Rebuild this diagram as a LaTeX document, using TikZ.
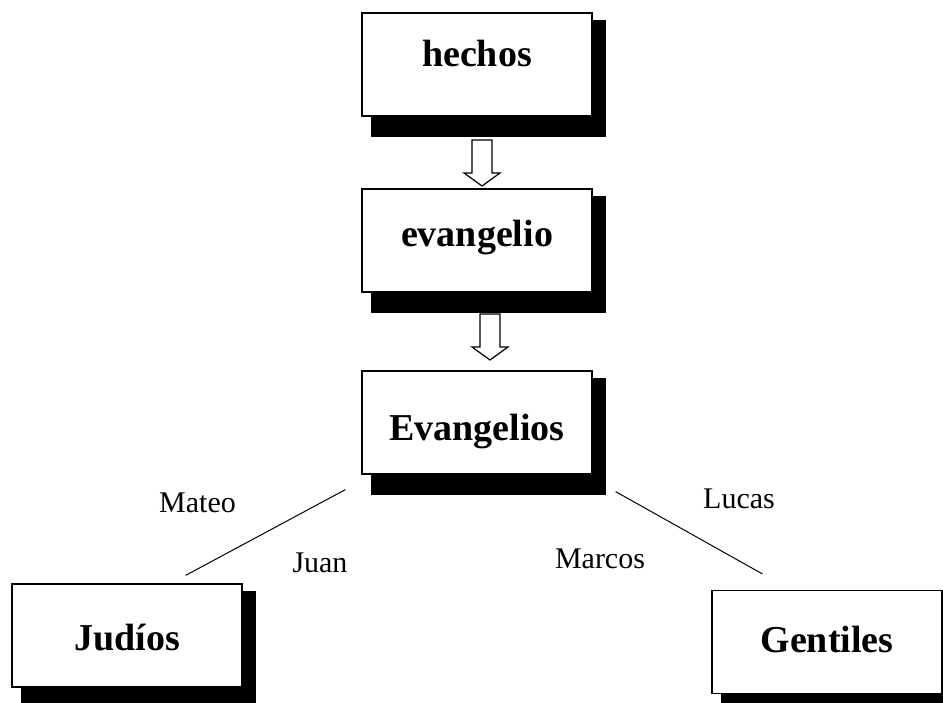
\documentclass[tikz,border=0pt]{standalone}
\usepackage{fontspec}
\setmainfont{Liberation Serif}
\usetikzlibrary{calc,backgrounds}

\tikzset{
	caja/.style={draw, fill=white, line width=1.2pt, minimum width=230pt, minimum height=103pt, inner sep=0pt, text height=2*#1, text depth=0pt, font=\fontsize{38}{40}\selectfont\bfseries},
	etiqueta/.style={font=\fontsize{30}{32}\selectfont, inner sep=0pt, anchor=base},
	flecha/.style={draw, line width=1.2pt, fill=white, line join=miter},
}

% flecha hueca hacia abajo desde una coordenada
\newcommand{\flechaabajo}[1]{
	\draw[flecha] (#1) ++(-10,0) -- ++(20,0) -- ++(0,33) -- ++(8,0) -- ++(-18,13) -- ++(-18,-13) -- ++(8,0) -- cycle;
}

\begin{document}
\begin{tikzpicture}[x=1pt, y=-1pt]

	\useasboundingbox (0,0) rectangle (943,702);

	\node[caja=1.5pt] (he) at (477,64.5) {hechos};
	\node[caja=5.5pt] (ev) at (477,240.5) {evangelio};
	\node[caja=17.5pt] (evs) at (477,422.5) {Evangelios};
	\node[caja=14.5pt] (ju) at (127,635.5) {Judíos};
	\node[caja=10pt] (ge) at (827,642) {Gentiles};

	% sombras
	\begin{scope}[on background layer]
		\foreach \n in {he,ev,evs,ju,ge}
			\fill ([shift={(10,20)}]\n.south west) rectangle ([shift={(13,8)}]\n.north east);
	\end{scope}

	\coordinate (f1) at (482,140);
	\coordinate (f2) at (490,314);
	\flechaabajo{f1}
	\flechaabajo{f2}

	\draw[line width=1pt] ($(evs.south west)+(-16,15)$) -- ($(ju.north east)+(-57,-8)$);
	\draw[line width=1pt] ($(evs.south east)+(23,17)$) -- ($(ge.north west)+(51,-16)$);

	\node[etiqueta] (mateo) at (197.5,512) {Mateo};
	\node[etiqueta] (juan) at (320,572) {Juan};
	\node[etiqueta] (marcos) at (600,568) {Marcos};
	\node[etiqueta] (lucas) at (739,508) {Lucas};

\end{tikzpicture}
\end{document}
